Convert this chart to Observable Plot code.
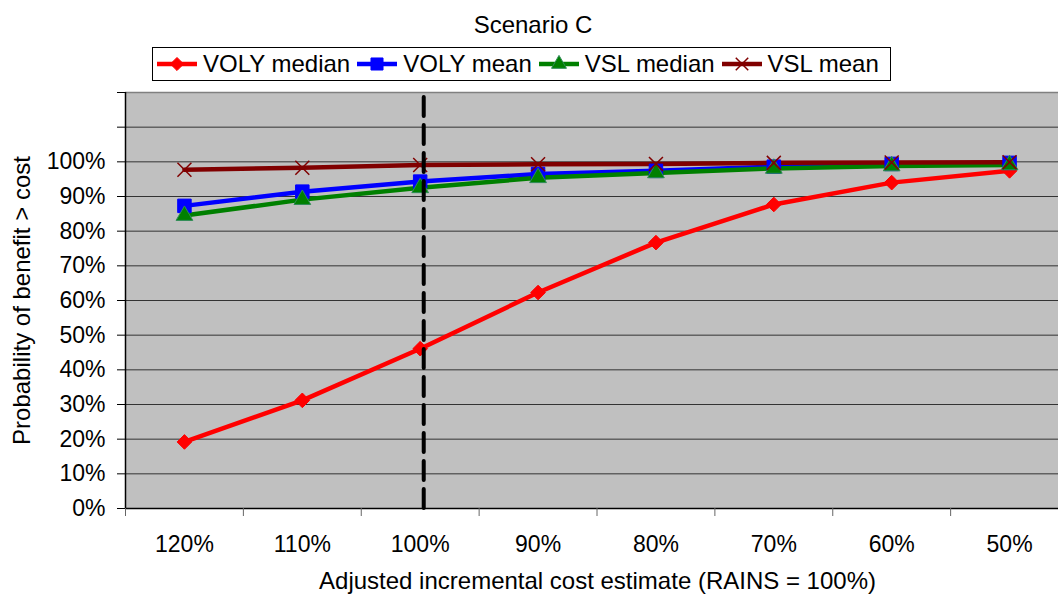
<!DOCTYPE html>
<html><head><meta charset="utf-8">
<script src="https://cdn.jsdelivr.net/npm/d3@7"></script>
<script src="https://cdn.jsdelivr.net/npm/@observablehq/plot@0.6"></script>
<style>
body{margin:0;background:#fff;font-family:"Liberation Sans",Arial,sans-serif;}
#wrap{position:relative;width:1058px;height:597px;overflow:hidden;background:#fff;}
#title{position:absolute;left:0;top:13px;width:1066px;text-align:center;font-size:24px;line-height:24px;color:#000;}
#legend{position:absolute;left:152px;top:47px;width:737px;height:32px;border:1px solid #000;display:flex;align-items:center;font-size:24px;background:#fff;color:#000;white-space:nowrap;}
#legend .item{display:flex;align-items:center;margin-right:7px;}
#legend svg{margin-right:6px;}
#chart{position:absolute;left:0;top:86px;}
</style></head><body>
<div id="wrap"><div id="title">Scenario C</div><div id="legend"></div><div id="chart"></div></div>
<script>
// ---- data ----
const categories = ["120%", "110%", "100%", "90%", "80%", "70%", "60%", "50%"];
const volyMedian = [0.192, 0.312, 0.461, 0.623, 0.767, 0.877, 0.940, 0.974];
const volyMean   = [0.873, 0.914, 0.943, 0.965, 0.974, 0.986, 0.994, 0.997];
const vslMedian  = [0.845, 0.891, 0.925, 0.954, 0.968, 0.981, 0.988, 0.991];
const vslMean    = [0.977, 0.983, 0.991, 0.993, 0.994, 0.997, 0.998, 0.999];
const seriesNames = ["VOLY median", "VOLY mean", "VSL median", "VSL mean"];
const yTicks = [0, 0.1, 0.2, 0.3, 0.4, 0.5, 0.6, 0.7, 0.8, 0.9, 1.0, 1.1, 1.2];
const referenceLine = [2.03]; // "RAINS = 100%" marker position (category index)
const titleText = "Scenario C";
const xTitle = "Adjusted incremental cost estimate (RAINS = 100%)";
const yTitle = "Probability of benefit > cost";

// ---- styling ----
const seriesValues = [volyMedian, volyMean, vslMedian, vslMean];
const seriesStyle = [
  {color: "#ff0000", symbol: "diamond2", r: 6.6, fill: "#ff0000", stroke: "#ff0000", sw: 1},
  {color: "#0000ff", symbol: "square",   r: 7.6, fill: "#0000ff", stroke: "#0000ff", sw: 1},
  {color: "#008000", symbol: "triangle", r: 6.2, fill: "#008000", stroke: "#2e8b57", sw: 1},
  {color: "#800000", symbol: "times",    r: 6.4, fill: "none",    stroke: "#800000", sw: 1.5}
];

const rows = seriesNames.map((name, k) => seriesValues[k].map((v, i) => ({series: name, i, v})));

const marks = [
  Plot.rect([0], {x1: -0.5, x2: categories.length - 0.5, y1: 0, y2: 1.2, fill: "#c0c0c0"}),
  Plot.ruleY(yTicks.filter(d => d > 0 && d < 1.15), {stroke: "#333", strokeWidth: 1}),
  Plot.ruleY([1.2], {stroke: "#808080", strokeWidth: 1.5}),
  Plot.ruleX([-0.5], {stroke: "#000", strokeWidth: 1.5}),
  Plot.ruleY([0], {stroke: "#000", strokeWidth: 1.5})
];
rows.forEach((data, k) => {
  const s = seriesStyle[k];
  marks.push(Plot.line(data, {x: "i", y: "v", stroke: s.color, strokeWidth: 4.5, curve: "linear"}));
});
rows.forEach((data, k) => {
  const s = seriesStyle[k];
  marks.push(Plot.dot(data, {x: "i", y: "v", symbol: s.symbol, r: s.r, fill: s.fill, stroke: s.stroke, strokeWidth: s.sw}));
});
marks.push(
  Plot.ruleX(referenceLine, {y1: 0, y2: 1.2, stroke: "#000", strokeWidth: 4, strokeDasharray: "19,9", strokeLinecap: "round"}),
  Plot.axisY(yTicks, {tickSize: 8, tickPadding: 12, stroke: "#000",
    tickFormat: d => d <= 1.0001 ? Math.round(d * 100) + "%" : "", label: null}),
  Plot.axisX(d3.range(categories.length + 1).map(d => d - 0.5), {tickSize: 8, stroke: "#666", tickFormat: () => "", label: null}),
  Plot.axisX(d3.range(categories.length), {tickSize: 0, tickPadding: 27, tickFormat: i => categories[i], label: null}),
  Plot.text([yTitle], {text: d => d, frameAnchor: "left", textAnchor: "middle", dx: -103, rotate: -90, fontSize: 24}),
  Plot.text([xTitle], {text: d => d, frameAnchor: "bottom", textAnchor: "middle", dx: 5.5, dy: 80, fontSize: 24})
);

const chart = Plot.plot({
  width: 1058,
  height: 511,
  marginLeft: 125,
  marginRight: 0,
  marginTop: 6,
  marginBottom: 89,
  style: {fontSize: "23px", fontFamily: "'Liberation Sans', Arial, sans-serif", color: "#000", background: "transparent"},
  x: {type: "linear", domain: [-0.5, categories.length - 0.5], range: [125, 1068]},
  y: {domain: [0, 1.2]},
  marks
});
document.getElementById("chart").appendChild(chart);
document.getElementById("title").textContent = titleText;

// ---- legend ----
const legend = document.getElementById("legend");
const first = document.createElement("div");
first.style.width = "4px";
legend.appendChild(first);
seriesNames.forEach((name, k) => {
  const s = seriesStyle[k];
  const item = document.createElement("div");
  item.className = "item";
  const sym = d3.symbol(({diamond2: d3.symbolDiamond2, square: d3.symbolSquare, triangle: d3.symbolTriangle, times: d3.symbolTimes})[s.symbol], Math.PI * s.r * s.r * 0.8)();
  item.innerHTML = `<svg width="40" height="20"><line x1="0" x2="40" y1="10" y2="10" stroke="${s.color}" stroke-width="4.5"/><path transform="translate(20,10)" d="${sym}" fill="${s.fill}" stroke="${s.stroke}" stroke-width="${s.sw}"/></svg><span>${name}</span>`;
  legend.appendChild(item);
});
</script>
</body></html>
